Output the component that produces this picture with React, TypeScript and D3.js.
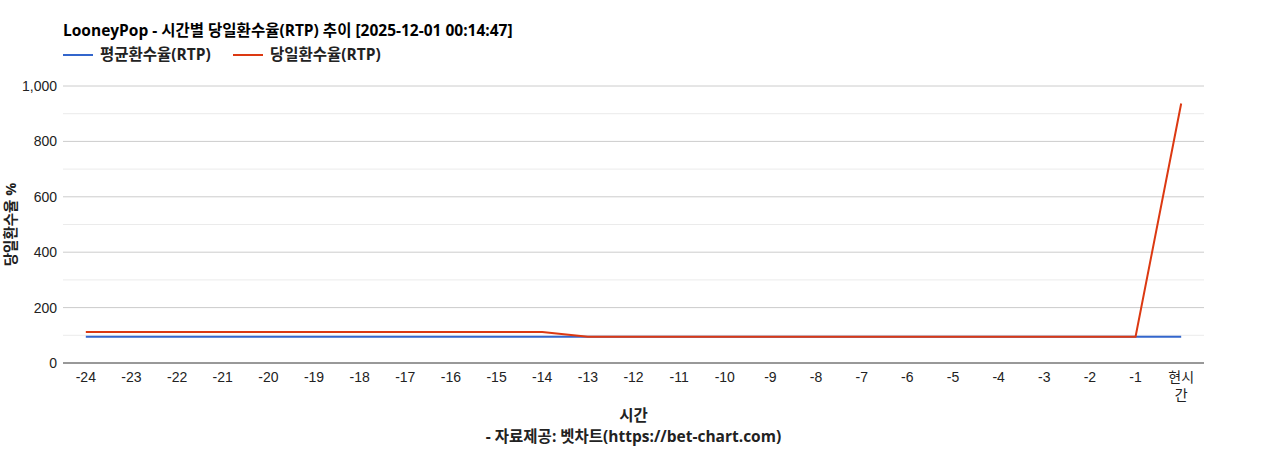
import React, { useEffect, useRef } from 'react';
import * as d3 from 'd3';

const categories = ['-24', '-23', '-22', '-21', '-20', '-19', '-18', '-17', '-16', '-15', '-14', '-13', '-12', '-11', '-10', '-9', '-8', '-7', '-6', '-5', '-4', '-3', '-2', '-1', '현시간'];
const avgRtp = [95, 95, 95, 95, 95, 95, 95, 95, 95, 95, 95, 95, 95, 95, 95, 95, 95, 95, 95, 95, 95, 95, 95, 95, 95];
const dailyRtp = [112, 112, 112, 112, 112, 112, 112, 112, 112, 112, 112, 95, 95, 95, 95, 95, 95, 95, 95, 95, 95, 95, 95, 95, 937];
const yTicks = [0, 200, 400, 600, 800, 1000];
const yMinorTicks = [100, 300, 500, 700, 900];

const FONT = "Arial, 'Liberation Sans', 'Noto Sans CJK KR', sans-serif";
const BOLD_FONT = "'Open Sans', 'Noto Sans CJK KR', sans-serif";

const App: React.FC = () => {
  const svgRef = useRef<SVGSVGElement>(null);

  useEffect(() => {
    if (!svgRef.current) return;
    const W = 1268, H = 450;
    const margin = { top: 86, right: 64, bottom: 87, left: 63 };
    const width = W - margin.left - margin.right;
    const height = H - margin.top - margin.bottom;

    d3.select(svgRef.current).selectAll('*').remove();
    const root = d3.select(svgRef.current)
      .attr('width', W)
      .attr('height', H)
      .style('font-family', FONT);

    const g = root.append('g').attr('transform', `translate(${margin.left},${margin.top})`);

    const x = d3.scaleBand().domain(categories).range([0, width]);
    const y = d3.scaleLinear().domain([0, 1000]).range([height, 0]);
    const cx = (c: string) => (x(c) || 0) + x.bandwidth() / 2;

    // minor gridlines
    g.selectAll('line.minor').data(yMinorTicks).enter().append('line')
      .attr('x1', 0).attr('x2', width)
      .attr('y1', d => y(d)).attr('y2', d => y(d))
      .attr('stroke', '#ebebeb').attr('stroke-width', 1);

    // major gridlines
    g.selectAll('line.major').data(yTicks.filter(t => t > 0)).enter().append('line')
      .attr('x1', 0).attr('x2', width)
      .attr('y1', d => y(d)).attr('y2', d => y(d))
      .attr('stroke', '#cccccc').attr('stroke-width', 1);

    // y labels
    g.selectAll('text.ylab').data(yTicks).enter().append('text')
      .attr('x', -6).attr('y', d => y(d) + 5)
      .attr('text-anchor', 'end')
      .attr('font-size', 14).attr('fill', '#222')
      .text(d => d3.format(',')(d));

    // x labels
    categories.forEach(c => {
      const t = g.append('text')
        .attr('text-anchor', 'middle')
        .attr('font-size', 14).attr('fill', '#222')
        .attr('y', height + 19);
      if (c.length > 2 && !c.startsWith('-')) {
        t.append('tspan').attr('x', cx(c)).text(c.slice(0, 2));
        t.append('tspan').attr('x', cx(c)).attr('dy', 18).text(c.slice(2));
      } else {
        t.attr('x', cx(c)).text(c);
      }
    });

    const line = d3.line<number>()
      .x((_, i) => cx(categories[i]))
      .y(d => y(d));

    g.append('path').datum(avgRtp)
      .attr('d', line).attr('fill', 'none')
      .attr('stroke', '#3366cc').attr('stroke-width', 2);
    g.append('path').datum(dailyRtp)
      .attr('d', line).attr('fill', 'none')
      .attr('stroke', '#dc3912').attr('stroke-width', 2);

    // baseline
    g.append('line')
      .attr('x1', 0).attr('x2', width)
      .attr('y1', y(0)).attr('y2', y(0))
      .attr('stroke', '#333').attr('stroke-width', 1);

    const bold = (sel: d3.Selection<SVGTextElement, unknown, null, undefined>) =>
      sel.attr('font-size', 15.5).attr('font-weight', 'bold').attr('font-family', BOLD_FONT);

    // title
    root.append('text')
      .attr('x', 63).attr('y', 36)
      .attr('fill', '#000')
      .call(bold)
      .text('LooneyPop - 시간별 당일환수율(RTP) 추이 [2025-12-01 00:14:47]');

    // legend
    const legend = [
      { label: '평균환수율(RTP)', color: '#3366cc', x: 63 },
      { label: '당일환수율(RTP)', color: '#dc3912', x: 233 },
    ];
    legend.forEach(l => {
      root.append('line')
        .attr('x1', l.x).attr('x2', l.x + 30)
        .attr('y1', 55).attr('y2', 55)
        .attr('stroke', l.color).attr('stroke-width', 2);
      root.append('text')
        .attr('x', l.x + 37).attr('y', 60)
        .attr('fill', '#222')
        .call(bold)
        .text(l.label);
    });

    // y-axis title
    root.append('text')
      .attr('transform', `translate(16,${margin.top + height / 2}) rotate(-90)`)
      .attr('text-anchor', 'middle')
      .attr('fill', '#222')
      .call(bold)
      .attr('font-size', 14.5)
      .text('당일환수율 %');

    // x-axis title
    root.append('text')
      .attr('x', margin.left + width / 2).attr('y', 421)
      .attr('text-anchor', 'middle')
      .attr('fill', '#222')
      .call(bold)
      .text('시간');
    root.append('text')
      .attr('x', margin.left + width / 2).attr('y', 442)
      .attr('text-anchor', 'middle')
      .attr('fill', '#222')
      .call(bold)
      .text('- 자료제공: 벳차트(https://bet-chart.com)');
  }, []);

  return (
    <div style={{ position: 'absolute', left: 0, top: 0 }}>
      <svg ref={svgRef}></svg>
    </div>
  );
};

export default App;
